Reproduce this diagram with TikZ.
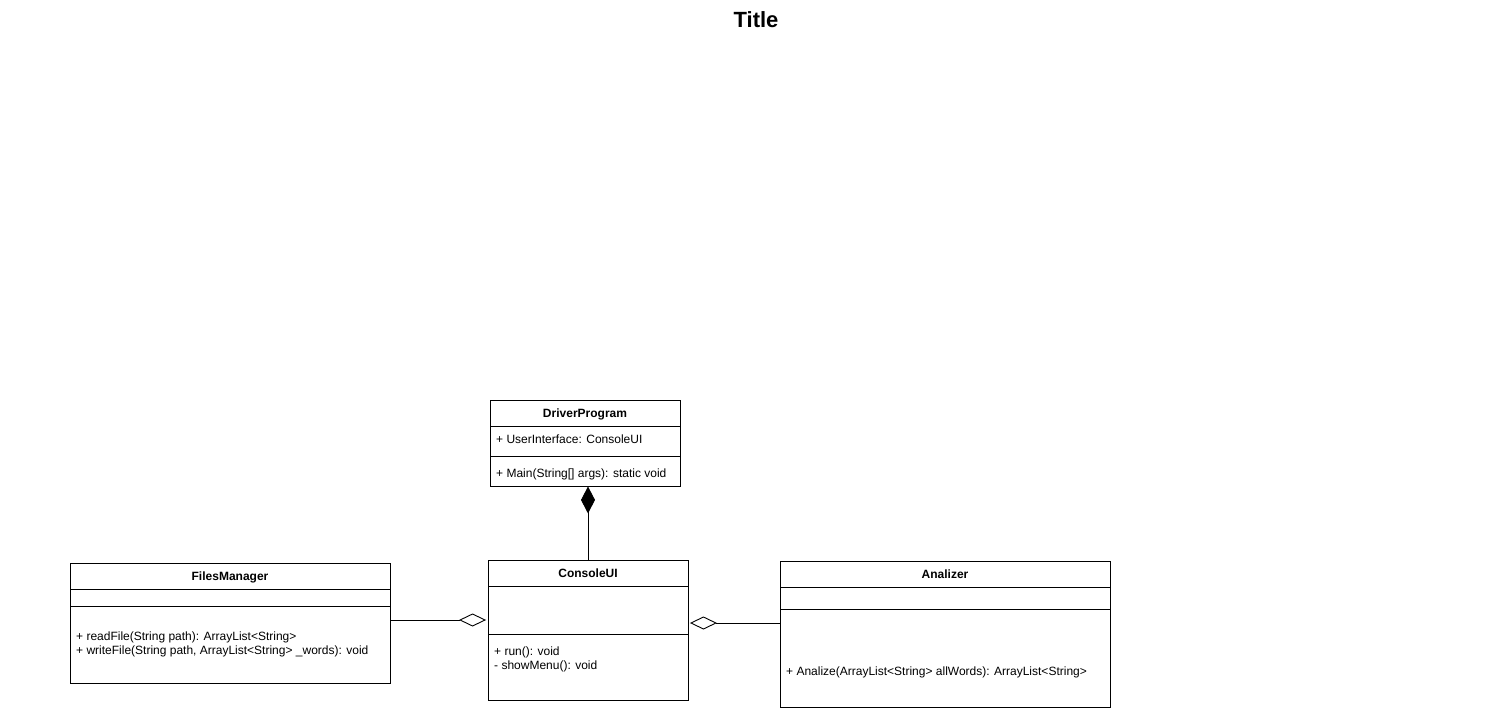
\documentclass[tikz,border=0pt]{standalone}
\usepackage{fontspec}
\setmainfont{Liberation Sans}
\usetikzlibrary{arrows.meta}
\begin{document}
\begin{tikzpicture}[x=1pt,y=-1pt,
  classbox/.style={draw=black,line width=0.9pt,rectangle,inner sep=0,fill=white},
  sepline/.style={line width=0.9pt},
  member/.style={anchor=west,inner sep=0,font=\fontsize{12}{14}\selectfont,text height=8.6pt,text depth=0pt},
  cname/.style={inner sep=0,font=\bfseries\fontsize{12}{14}\selectfont,text height=8.6pt,text depth=0pt},
  conn/.style={line width=0.9pt},
  aggr/.style={conn,shorten >=1.5pt,-{Diamond[open,length=27pt,width=13pt,line width=0.9pt]}},
  comp/.style={conn,-{Diamond[fill=black,length=27pt,width=14pt]}}]
\useasboundingbox (0,0) rectangle (1512,711);

% title
\node[inner sep=0,font=\bfseries\fontsize{22}{26}\selectfont] (title) at (756,20) {Title};

% DriverProgram
\node[classbox,minimum width=190pt,minimum height=86pt] (dp) at (585,443) {};
\draw[sepline] (490,426) -- (680,426);
\draw[sepline] (490,456) -- (680,456);
\node[cname] (dpname) at (585,413) {DriverProgram};
\node[member] (dpattr) at (496,439) {+ UserInterface: ConsoleUI};
\node[member] (dpmeth) at (496,473) {+ Main(String[] args): static void};

% FilesManager
\node[classbox,minimum width=320pt,minimum height=120pt] (fm) at (230,623) {};
\draw[sepline] (70,589) -- (390,589);
\draw[sepline] (70,606) -- (390,606);
\node[cname] (fmname) at (230,576) {FilesManager};
\node[member] (fmm1) at (76,636) {+ readFile(String path): ArrayList<String>};
\node[member] (fmm2) at (76,650) {+ writeFile(String path, ArrayList<String> \_words): void};

% ConsoleUI
\node[classbox,minimum width=200pt,minimum height=140pt] (cui) at (588,630) {};
\draw[sepline] (488,586) -- (688,586);
\draw[sepline] (488,634) -- (688,634);
\node[cname] (cuiname) at (588,573) {ConsoleUI};
\node[member] (cuim1) at (494,651) {+ run(): void};
\node[member] (cuim2) at (494,665) {- showMenu(): void};

% Analizer
\node[classbox,minimum width=330pt,minimum height=146pt] (an) at (945,634) {};
\draw[sepline] (780,587) -- (1110,587);
\draw[sepline] (780,609) -- (1110,609);
\node[cname] (anname) at (945,574) {Analizer};
\node[member] (anm1) at (786,671) {+ Analize(ArrayList<String> allWords): ArrayList<String>};

% relations
\coordinate (yfm) at (0,620);
\coordinate (yan) at (0,623);
\draw[comp] (cui.north) -- (cui.north |- dp.south);
\draw[aggr] (fm.east |- yfm) -- (cui.west |- yfm);
\draw[aggr] (an.west |- yan) -- (cui.east |- yan);
\end{tikzpicture}
\end{document}
